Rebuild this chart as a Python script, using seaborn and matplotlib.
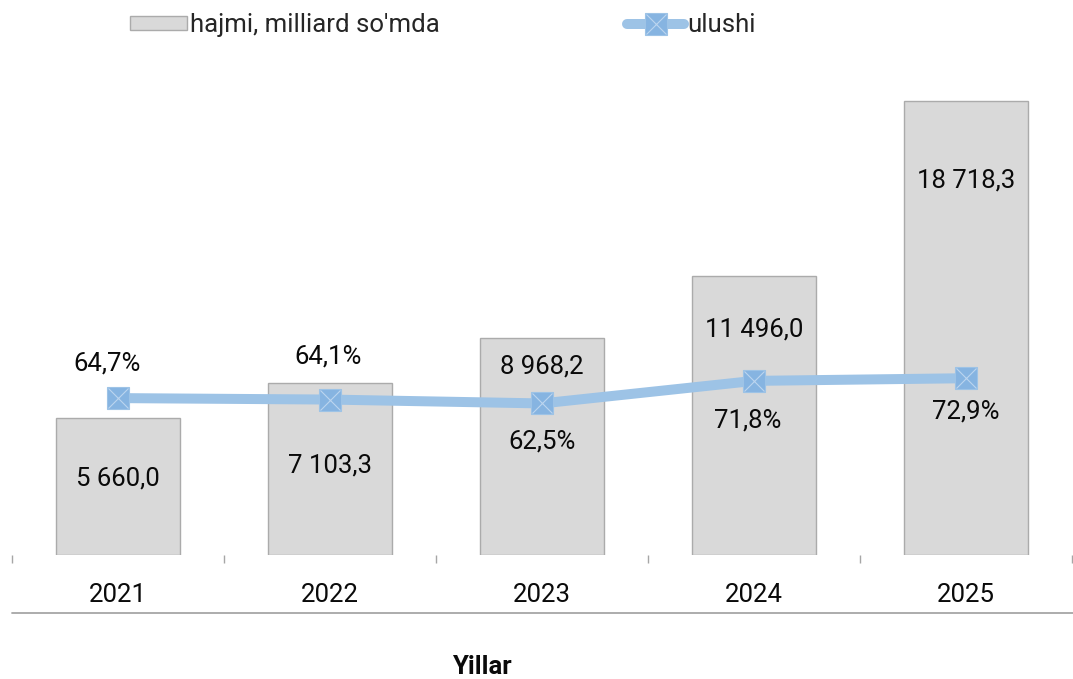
import numpy as np
import pandas as pd
import matplotlib
matplotlib.use("Agg")
import matplotlib.pyplot as plt
import matplotlib.transforms as mtransforms
from matplotlib.lines import Line2D
from matplotlib.patches import Patch
import seaborn as sns

# ---- data ----
years = ["2021", "2022", "2023", "2024", "2025"]
volume = [5660.0, 7103.3, 8968.2, 11496.0, 18718.3]      # hajmi, milliard so'mda
share = [64.7, 64.1, 62.5, 71.8, 72.9]                   # ulushi, %
volume_labels = ["5 660,0", "7 103,3", "8 968,2", "11 496,0", "18 718,3"]
share_labels = ["64,7%", "64,1%", "62,5%", "71,8%", "72,9%"]

# ---- label placement (style, axes-fraction y, x offset in categories) ----
vol_label_y = [0.157, 0.184, 0.388, 0.464, 0.773]
share_label_y = [0.394, 0.410, 0.235, 0.278, 0.295]
share_label_dx = [-0.05, -0.01, 0.0, -0.03, 0.0]

sns.set_theme(style="white")
plt.rcParams["font.family"] = ["Roboto", "DejaVu Sans"]

FS = 18.5
TXT = "#0A0A0A"
BAR_FILL = "#D9D9D9"
BAR_EDGE = "#ABABAB"
LINE_C = "#9DC3E6"
MARK_C = "#86B4E1"
X_C = "#BCD5EF"

fig = plt.figure(figsize=(10.73, 6.79), dpi=100)
W, H = 1073, 679
ax = fig.add_axes([12 / W, 1 - 555 / H, 1060 / W, 485 / H])

df = pd.DataFrame({"year": years, "volume": volume})
sns.barplot(data=df, x="year", y="volume", ax=ax, color=BAR_FILL,
            saturation=1, width=0.585, edgecolor=BAR_EDGE, linewidth=1.0)
ax.set_xlim(-0.5, len(years) - 0.5)
ax.set_ylim(0, 20000)
for sp in ax.spines.values():
    sp.set_visible(False)
ax.set_yticks([])
ax.set_xlabel("")
ax.set_ylabel("")
ax.set_xticks(np.arange(len(years)))
ax.set_xticklabels(years, fontsize=FS, color=TXT)
ax.set_xticks(np.arange(len(years) + 1) - 0.5, minor=True)
ax.tick_params(axis="x", which="major", length=0, pad=20)
ax.tick_params(axis="x", which="minor", length=5.8, width=1.0, color="#A6A6A6",
               direction="out", bottom=True)

ax2 = ax.twinx()
xs = np.arange(len(years))
sns.lineplot(x=xs, y=share, ax=ax2, color=LINE_C, linewidth=7.2,
             solid_capstyle="butt", zorder=2)
ax2.plot(xs, share, linestyle="none", marker="s", markersize=16,
         markerfacecolor=MARK_C, markeredgecolor=LINE_C, markeredgewidth=0.8, zorder=3)
ax2.plot(xs, share, linestyle="none", marker="x", markersize=14,
         markeredgecolor=X_C, markeredgewidth=0.8, zorder=4)
ax2.set_ylim(0, 200)
ax2.set_xlim(-0.5, len(years) - 0.5)
ax2.set_yticks([])
ax2.set_ylabel("")
for sp in ax2.spines.values():
    sp.set_visible(False)

trans = mtransforms.blended_transform_factory(ax.transData, ax.transAxes)
for i, (lab, yy) in enumerate(zip(volume_labels, vol_label_y)):
    ax.text(i, yy, lab, transform=trans, ha="center", va="center",
            fontsize=FS, color=TXT)
trans2 = mtransforms.blended_transform_factory(ax2.transData, ax2.transAxes)
for i, (lab, yy, dx) in enumerate(zip(share_labels, share_label_y, share_label_dx)):
    ax2.text(i + dx, yy, lab, transform=trans2, ha="center", va="center",
             fontsize=FS, color=TXT, zorder=5)

# bottom rule below the year labels
fig.add_artist(Line2D([12 / W, 1.0], [1 - 613 / H, 1 - 613 / H],
                      color="#A6A6A6", linewidth=1.3))

fig.text(482 / W, 1 - 667 / H, "Yillar", ha="center", va="center",
         fontsize=FS, fontweight="bold", color=TXT)

# legend
h_bar = Patch(facecolor=BAR_FILL, edgecolor=BAR_EDGE, linewidth=1.0)
h_line = Line2D([], [], color=LINE_C, linewidth=7.2, solid_capstyle="round")
h_sq = Line2D([], [], linestyle="none", marker="s", markersize=16,
              markerfacecolor=MARK_C, markeredgecolor=LINE_C, markeredgewidth=0.8)
h_x = Line2D([], [], linestyle="none", marker="x", markersize=14,
             markeredgecolor=X_C, markeredgewidth=0.8)
fig.legend([h_bar, (h_line, h_sq, h_x)], ["hajmi, milliard so'mda", "ulushi"],
           loc="center", bbox_to_anchor=(443 / W, 1 - 25 / H), ncol=2,
           frameon=False, fontsize=FS, handlelength=2.2, handleheight=0.5,
           handletextpad=0.12, columnspacing=7.3, numpoints=1)

fig.savefig("out.png", dpi=100)
